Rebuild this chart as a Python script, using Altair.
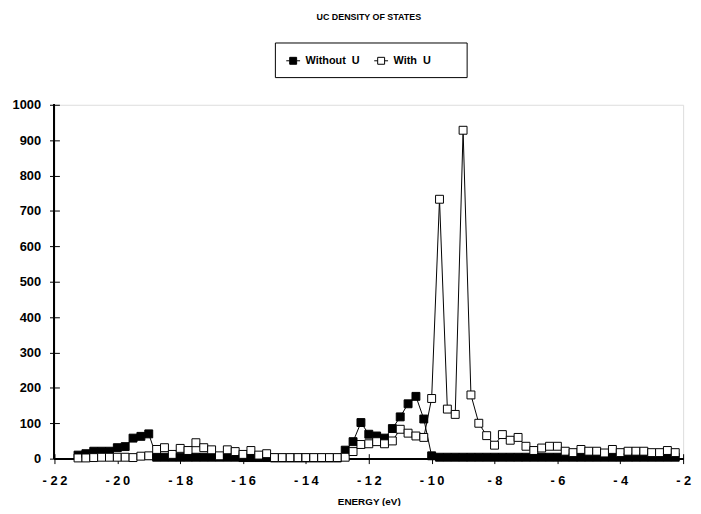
import altair as alt
import pandas as pd

energy = [-21.25 + 0.25 * i for i in range(77)]

without_u = [10, 14, 21, 21, 21, 31, 34, 58, 63, 70,
             4, 4, 4, 4, 4, 4, 4, 4, 4, 4, 4, 3, 3, 3, 3,
             2, 2, 2, 2, 2, 2, 2, 2, 2,
             24, 48, 102, 69, 64, 58, 85, 118, 155, 176, 112, 8,
             4, 4, 4, 4, 4, 4, 4, 4, 4, 4, 4, 4, 4, 4, 4, 4,
             4, 4, 4, 4, 4, 4, 4, 4, 4, 4, 4, 4, 4, 4, 4]

with_u = [2, 2, 3, 4, 4, 4, 4, 3, 7, 8,
          26, 31, 12, 29, 23, 45, 31, 25, 8, 25, 20, 12, 23, 10, 14,
          3, 3, 3, 3, 3, 3, 3, 3, 3,
          4, 20, 40, 42, 48, 42, 50, 83, 72, 64, 60, 170,
          733, 140, 125, 928, 180, 100, 65, 38, 68, 52, 60, 35, 23, 30, 35, 35,
          21, 17, 26, 21, 21, 16, 26, 17, 21, 21, 21, 17, 17, 23, 17]

series_names = ["Without U", "With U"]
x_ticks = list(range(-22, -1, 2))
y_ticks = list(range(0, 1001, 100))

rows = []
for name, vals in zip(series_names, [without_u, with_u]):
    for i, (e, v) in enumerate(zip(energy, vals)):
        rows.append({"energy": e, "dos": v, "series": name, "ord": i})
df = pd.DataFrame(rows)

FONT = "Liberation Sans"

xscale = alt.Scale(domain=[-22, -2], nice=False, zero=False)
yscale = alt.Scale(domain=[0, 1000], nice=False)

xaxis = alt.Axis(values=x_ticks, title="ENERGY (eV)", domain=False, grid=False,
                 offset=-5, tickSize=10, tickColor="black", labelColor="black",
                 labelFont=FONT, labelFontSize=13, labelFontWeight="bold",
                 labelPadding=11, labelFlush=False, labelOverlap=False,
                 labelExpr="(datum.value < 0 ? '- ' : '') + join(split(toString(abs(datum.value)), ''), '\u2009')",
                 titleFont=FONT, titleFontSize=10, titleFontWeight="bold",
                 titleColor="black", titlePadding=9)
yaxis = alt.Axis(values=y_ticks, title=None, domain=False, grid=False,
                 offset=-5, tickSize=10, tickColor="black", labelColor="black",
                 labelFont=FONT, labelFontSize=13, labelFontWeight="bold",
                 labelPadding=9, labelFlush=False, labelOverlap=False,
                 format="d")

xenc = alt.X("energy:Q", scale=xscale, axis=xaxis)
yenc = alt.Y("dos:Q", scale=yscale, axis=yaxis)

base = alt.Chart(df)

lines = base.mark_line(color="black", strokeWidth=1).encode(
    x=xenc, y=yenc, detail="series:N", order="ord:Q")

symbol_path = "M-1,0H-0.5M0.5,0H1M-0.5,-0.5H0.5V0.5H-0.5Z"

points = base.mark_point(shape="square", size=64, opacity=1, stroke="black",
                         strokeWidth=1, filled=True).encode(
    x=xenc, y=yenc,
    fill=alt.Fill("series:N",
                  scale=alt.Scale(domain=series_names, range=["black", "white"]),
                  legend=alt.Legend(
                      title="\u00a0", titleOrient="right", titlePadding=25,
                      titleFontSize=11,
                      orient="none", legendX=223, legendY=-63,
                      direction="horizontal", strokeColor="black", padding=11,
                      symbolType=symbol_path, symbolSize=196, symbolStrokeColor="black",
                      symbolStrokeWidth=1, symbolOpacity=1,
                      labelFont=FONT, labelFontSize=11, labelFontWeight="bold",
                      labelColor="black", labelOffset=5, columnPadding=12,
                      labelExpr="replace(datum.label, ' ', '\u00a0\u00a0')")),
    order="ord:Q")

xline = alt.Chart(df).mark_rule(color="black", strokeWidth=1).encode(
    y=alt.YDatum(0, scale=yscale, axis=yaxis))
yline = alt.Chart(df).mark_rule(color="black", strokeWidth=1).encode(
    x=alt.XDatum(-22, scale=xscale, axis=xaxis))

chart = alt.layer(xline, yline, lines, points).properties(
    width=636, height=358,
    title=alt.Title("UC DENSITY OF STATES", font=FONT, fontSize=9, fontWeight="bold",
                    color="black", anchor="middle", offset=20),
    autosize=alt.AutoSizeParams(type="none"),
    padding={"left": 47, "top": 95, "right": 10, "bottom": 45},
).configure_view(stroke=None).configure(background="white")

chart.save("out.html", embed_options={"renderer": "svg", "actions": False})
